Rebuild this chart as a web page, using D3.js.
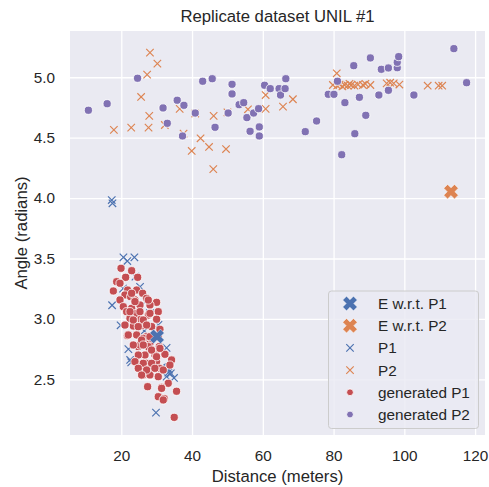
<!DOCTYPE html>
<html><head><meta charset="utf-8">
<script src="https://cdn.jsdelivr.net/npm/d3@7"></script>
<style>body{margin:0;background:#fff}text{font-family:"Liberation Sans",Arial,sans-serif;fill:#262626}</style>
</head><body><svg id="c" width="489" height="487"></svg>
<script>
// ---- data ----
const title = "Replicate dataset UNIL #1";
const xLabel = "Distance (meters)";
const yLabel = "Angle (radians)";
const xTicks = [20, 40, 60, 80, 100, 120];
const yTicks = [2.5, 3.0, 3.5, 4.0, 4.5, 5.0];
const seriesNames = ["E w.r.t. P1", "E w.r.t. P2", "P1", "P2", "generated P1", "generated P2"];

const eP1 = [[30.1, 2.855]];
const eP2 = [[113.2, 4.053]];

const p1 = [[17.3,3.984],[17.5,3.957],[20.6,3.510],[21.7,3.479],[23.7,3.510],[17.4,3.113],[19.8,2.947],
  [22.5,2.660],[22.8,2.64],[33.3,2.555],[34.9,2.511],[29.8,2.224],[25.3,3.266],[22.9,3.074],[28.1,3.047],
  [32.8,2.76],[32.8,2.522],[31.5,2.60],[26.5,2.90],[24.0,3.35],[20.5,3.25],[27.0,3.15],[30.5,2.95],
  [22.0,2.75],[34.0,2.55],[33.5,2.58],[33.0,2.59]];

const p2 = [[28.1,5.204],[30.2,5.113],[27.3,5.022],[25.6,4.837],[27.9,4.680],[17.9,4.564],[22.8,4.583],
  [27.7,4.583],[32.3,4.605],[36.5,4.738],[37.6,4.533],[40.9,4.70],[46.1,4.680],[42.4,4.495],[44.8,4.423],
  [39.9,4.390],[49.6,4.406],[46.0,4.24],[50.0,4.71],[55.8,4.735],[60.8,4.853],[60.8,4.738],[65.7,4.757],
  [68.5,4.818],[80.9,5.033],[79.8,4.936],[81.0,4.93],[81.7,4.94],[82.5,4.925],[83.1,4.936],[84.0,4.93],
  [84.5,4.945],[85.0,4.936],[85.9,4.93],[86.9,4.94],[88.3,4.936],[89.0,4.945],[90.4,4.936],[95.0,4.949],
  [96.0,4.955],[97.0,4.949],[98.6,4.94],[106.6,4.93],[109.7,4.93],[110.7,4.93]];

const genP1 = [[19.92,3.419],[22.93,3.399],[21.23,3.344],[24.62,3.344],[18.69,3.308],[19.63,3.295],
  [21.80,3.239],[24.34,3.239],[17.75,3.231],[26.03,3.212],[21.04,3.198],[22.64,3.184],[19.63,3.157],
  [23.87,3.157],[27.16,3.170],[29.98,3.137],[20.57,3.101],[22.93,3.088],[25.28,3.115],[28.10,3.115],
  [30.45,3.060],[21.51,3.060],[24.34,3.046],[27.63,3.032],[22.46,3.005],[25.56,2.997],[29.98,2.997],
  [23.40,2.941],[25.75,2.944],[28.57,2.936],[21.70,2.861],[24.34,2.867],[27.16,2.853],[30.92,2.914],
  [30.45,2.853],[25.75,2.812],[28.10,2.798],[24.81,2.770],[28.10,2.743],[30.73,2.770],[26.69,2.701],
  [29.51,2.701],[32.33,2.707],[34.21,2.660],[24.05,2.646],[27.16,2.632],[29.98,2.646],[25.28,2.591],
  [28.10,2.591],[30.92,2.591],[26.22,2.536],[28.10,2.536],[30.45,2.522],[33.27,2.467],[27.44,2.439],
  [31.39,2.434],[35.62,2.401],[30.45,2.356],[32.14,2.340],[34.96,2.185],
  [22.92,3.212],[23.86,3.143],[27.63,3.156],[22.45,3.060],[25.27,3.060],[28.10,3.046],[23.39,2.991],
  [26.21,2.991],[21.04,2.949],[24.80,2.936],[27.16,2.949],[21.98,2.867],[26.21,2.839],[28.57,2.839],
  [25.27,2.784],[27.63,2.770],[25.74,2.825],[28.09,2.853],[23.39,2.784],[26.21,2.784],[28.56,2.742],
  [30.92,2.756],[24.80,2.701],[29.97,2.687],[23.86,2.646],[26.21,2.632],[28.56,2.632],[24.80,2.591],
  [27.15,2.577],[29.50,2.591],[31.86,2.577],[33.74,2.618],[25.74,2.535],[31.39,2.425],[31.86,2.329]];

const genP2 = [[10.7,4.727],[16.0,4.781],[24.6,4.992],[31.8,4.746],[33.0,4.619],[35.8,4.810],[37.7,4.768],
  [37.3,4.514],[40.9,4.704],[43.0,4.967],[45.7,4.988],[46.5,4.586],[50.2,4.704],[51.3,4.942],[51.3,4.862],
  [53.3,4.773],[54.6,4.790],[55.5,4.666],[56.4,4.553],[57.4,4.704],[58.8,4.740],[59.0,4.589],[59.0,4.514],
  [60.5,4.934],[62.1,4.906],[64.6,4.906],[65.0,4.853],[66.3,4.906],[66.5,4.988],[72.0,4.550],[75.2,4.638],
  [78.5,4.859],[80.1,4.859],[81.1,4.967],[82.3,4.359],[83.2,4.790],[85.7,5.096],[86.0,4.533],[87.3,4.834],
  [89.1,4.685],[90.4,5.160],[92.8,4.853],[93.5,5.066],[95.5,5.077],[95.5,4.892],[98.0,5.079],[98.0,5.124],
  [98.4,5.171],[102.7,4.853],[114.0,5.237],[117.6,4.955]];

const colors = {blue:"#4c72b0", orange:"#dd8452", red:"#c44e52", purple:"#8172b3"};

// ---- chart ----
const M = {l:70, r:485, t:31, b:435};
const svg = d3.select("#c");
const x = d3.scaleLinear().domain([5.5, 122.8]).range([M.l, M.r]);
const y = d3.scaleLinear().domain([2.039, 5.383]).range([M.b, M.t]);

svg.append("rect").attr("x", M.l).attr("y", M.t).attr("width", M.r - M.l).attr("height", M.b - M.t).attr("fill", "#eaeaf2");

const gx = svg.append("g").attr("transform", `translate(0,${M.b})`)
  .call(d3.axisBottom(x).tickValues(xTicks).tickSize(-(M.b - M.t)).tickPadding(15).tickFormat(d3.format("d")));
const gy = svg.append("g").attr("transform", `translate(${M.l},0)`)
  .call(d3.axisLeft(y).tickValues(yTicks).tickSize(-(M.r - M.l)).tickPadding(15).tickFormat(d3.format(".1f")));
[gx, gy].forEach(g => {
  g.select(".domain").remove();
  g.selectAll(".tick line").attr("stroke", "#fff").attr("stroke-width", 1.3);
  g.selectAll(".tick text").attr("font-size", 15.3).attr("fill", "#262626");
});

svg.append("clipPath").attr("id", "pc").append("rect")
  .attr("x", M.l).attr("y", M.t).attr("width", M.r - M.l).attr("height", M.b - M.t);
const plot = svg.append("g").attr("clip-path", "url(#pc)");

const smallX = d3.symbol().type(d3.symbolX).size(38);
function bigXPath(L, w) {
  const pts = [[-w,-L],[w,-L],[w,-w],[L,-w],[L,w],[w,w],[w,L],[-w,L],[-w,w],[-L,w],[-L,-w],[-w,-w]];
  const c = Math.SQRT1_2;
  return "M" + pts.map(([a,b]) => [(a - b) * c, (a + b) * c].map(v => v.toFixed(2)).join(",")).join("L") + "Z";
}
const bigX = bigXPath(7.6, 2.7);

function drawX(data, color) {
  plot.append("g").selectAll("path").data(data).join("path")
    .attr("d", smallX).attr("transform", d => `translate(${x(d[0])},${y(d[1])})`)
    .attr("fill", "none").attr("stroke", color).attr("stroke-width", 1.15);
}
function drawDots(data, color) {
  plot.append("g").selectAll("circle").data(data).join("circle")
    .attr("cx", d => x(d[0])).attr("cy", d => y(d[1])).attr("r", 4.1)
    .attr("fill", color).attr("stroke", "#fff").attr("stroke-width", 0.8);
}
function drawBig(data, color) {
  plot.append("g").selectAll("path").data(data).join("path")
    .attr("d", bigX).attr("transform", d => `translate(${x(d[0])},${y(d[1])})`)
    .attr("fill", color).attr("stroke", "#fff").attr("stroke-width", 0.5);
}
drawX(p1, colors.blue);
drawX(p2, colors.orange);
drawDots(genP1, colors.red);
drawDots(genP2, colors.purple);
drawBig(eP1, colors.blue);
drawBig(eP2, colors.orange);

// titles
svg.append("text").attr("x", (M.l + M.r) / 2).attr("y", 22).attr("text-anchor", "middle").attr("font-size", 16.7).text(title);
svg.append("text").attr("x", (M.l + M.r) / 2).attr("y", 482).attr("text-anchor", "middle").attr("font-size", 16.7).text(xLabel);
svg.append("text").attr("transform", `translate(27,${(M.t + M.b) / 2}) rotate(-90)`).attr("text-anchor", "middle").attr("font-size", 16.7).text(yLabel);

// legend
const lg = svg.append("g").attr("transform", "translate(328.5,291)");
lg.append("rect").attr("width", 150).attr("height", 137.5).attr("rx", 3).attr("fill", "#eaeaf2").attr("fill-opacity", 0.8).attr("stroke", "#cccccc").attr("stroke-width", 1);
const kinds = ["big", "big", "x", "x", "dot", "dot"];
const kcol = [colors.blue, colors.orange, colors.blue, colors.orange, colors.red, colors.purple];
seriesNames.forEach((name, i) => {
  const cy = 12.5 + i * 22.2;
  const g = lg.append("g").attr("transform", `translate(21.5,${cy})`);
  if (kinds[i] === "big") g.append("path").attr("d", bigX).attr("fill", kcol[i]).attr("stroke", "#fff").attr("stroke-width", 0.5);
  else if (kinds[i] === "x") g.append("path").attr("d", smallX).attr("fill", "none").attr("stroke", kcol[i]).attr("stroke-width", 1.15);
  else g.append("circle").attr("r", 3.4).attr("fill", kcol[i]).attr("stroke", "#fff").attr("stroke-width", 0.8);
  lg.append("text").attr("x", 49.5).attr("y", cy).attr("dy", "0.36em").attr("font-size", 15.3).text(name);
});
</script></body></html>
